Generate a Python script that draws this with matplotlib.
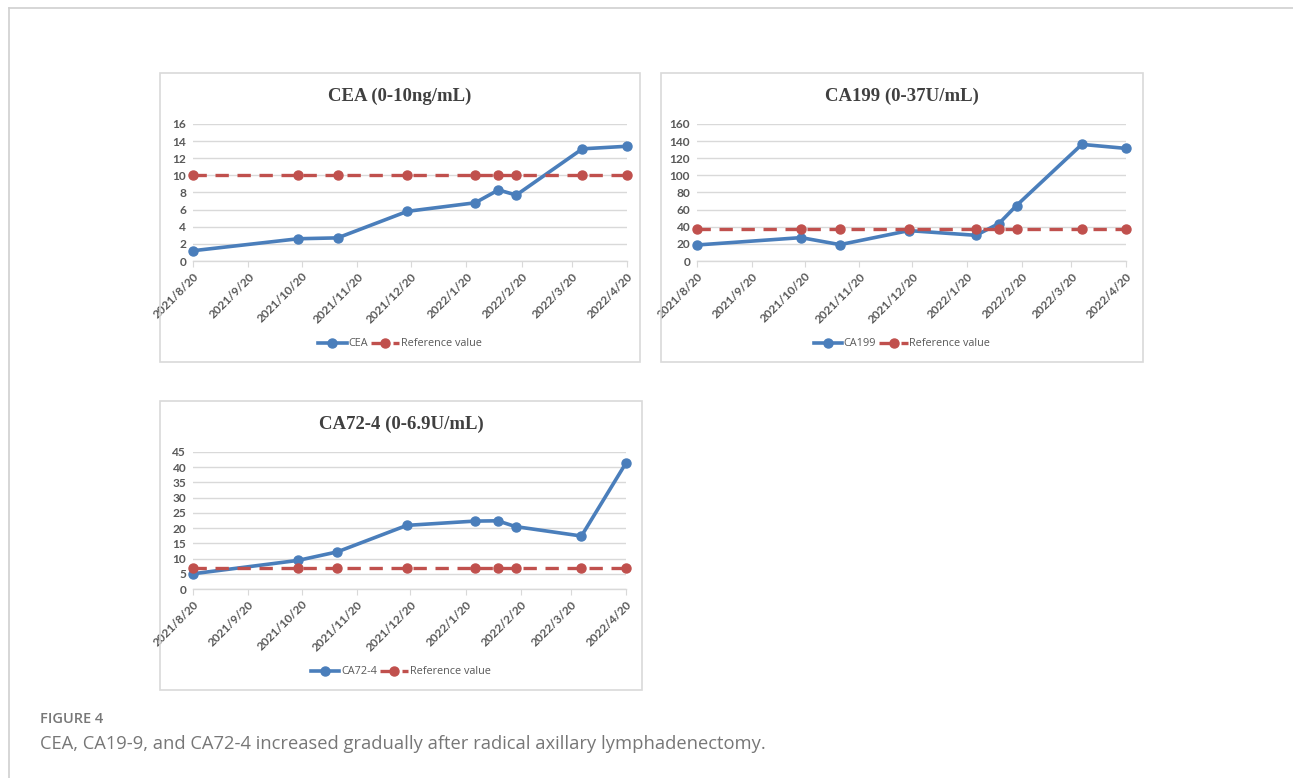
import matplotlib
matplotlib.use("Agg")
import matplotlib.pyplot as plt
import matplotlib.dates as mdates
from matplotlib.patches import Rectangle
from matplotlib.lines import Line2D
from datetime import datetime

W, H = 1293, 778

# sampling dates (same for all three markers)
dates = ["2021/8/20", "2021/10/18", "2021/11/9", "2021/12/18", "2022/1/25",
         "2022/2/7", "2022/2/17", "2022/3/26", "2022/4/20"]
tick_labels = ["2021/8/20", "2021/9/20", "2021/10/20", "2021/11/20", "2021/12/20",
               "2022/1/20", "2022/2/20", "2022/3/20", "2022/4/20"]

cea = [1.2, 2.6, 2.7, 5.8, 6.8, 8.3, 7.7, 13.1, 13.4]
ca199 = [18.7, 27.3, 19.1, 35.5, 30.0, 43.7, 64.8, 136.2, 131.5]
ca724 = [5.0, 9.4, 12.2, 20.9, 22.3, 22.4, 20.5, 17.4, 41.4]
ref_cea, ref_ca199, ref_ca724 = 10, 37, 6.9

BLUE = "#4a7ebb"
RED = "#c0504d"
GRID = "#d9d9d9"
TXT = "#595959"


def to_num(s):
    return mdates.date2num(datetime.strptime(s, "%Y/%m/%d"))


x = [to_num(d) for d in dates]
xt = [to_num(d) for d in tick_labels]


def px_box(x0, y0, x1, y1):
    return [x0 / W, 1 - y1 / H, (x1 - x0) / W, (y1 - y0) / H]


fig = plt.figure(figsize=(W / 100, H / 100), dpi=100)

# page frame
fig.add_artist(Line2D([9 / W, 1], [1 - 8 / H, 1 - 8 / H], color="#d0d0d0", lw=1.2))
fig.add_artist(Line2D([9 / W, 9 / W], [0, 1 - 8 / H], color="#d0d0d0", lw=1.2))


def panel(box, ax_box, title, name, vals, ref, ymax, ystep):
    bx0, by0, bx1, by1 = box
    fig.add_artist(Rectangle((bx0 / W, 1 - by1 / H), (bx1 - bx0) / W, (by1 - by0) / H,
                             transform=fig.transFigure, fill=False, ec=GRID, lw=1.2))
    ax = fig.add_axes(px_box(*ax_box))
    ax.plot(x, vals, color=BLUE, lw=2.6, marker="o", ms=6.5, clip_on=False, zorder=3, label=name)
    ax.plot(x, [ref] * len(x), color=RED, lw=2.4, ls=(0, (4, 2.6)), marker="o", ms=6.5,
            clip_on=False, zorder=4, label="Reference value")
    ax.set_xlim(xt[0], xt[-1])
    ax.set_ylim(0, ymax)
    ax.set_yticks(range(0, ymax + 1, ystep))
    ax.set_xticks(xt)
    ax.set_xticklabels(tick_labels, rotation=45, ha="right", rotation_mode="anchor")
    ax.grid(axis="y", color=GRID, lw=1)
    ax.set_axisbelow(True)
    for s in ["top", "right", "left"]:
        ax.spines[s].set_visible(False)
    ax.spines["bottom"].set_color(GRID)
    ax.spines["bottom"].set_linewidth(1)
    ax.tick_params(axis="y", length=0, pad=5, labelsize=8.6, labelcolor=TXT)
    ax.tick_params(axis="x", length=4, color=GRID, pad=3, labelsize=8.6, labelcolor=TXT)
    for lab in ax.get_xticklabels() + ax.get_yticklabels():
        lab.set_fontweight("bold")
        lab.set_family("Lato")
    cx = (bx0 + bx1) / 2
    fig.text(cx / W, 1 - (by0 + 23) / H, title, ha="center", va="center",
             family="Liberation Serif", fontweight="bold", fontsize=13.5, color="#404040")
    fig.legend(*ax.get_legend_handles_labels(), loc="center",
               bbox_to_anchor=(cx / W, 1 - (by1 - 18) / H), ncol=2, frameon=False,
               handlelength=2.6, handletextpad=0.15, columnspacing=0.3,
               prop={"family": "Open Sans", "size": 7.8}, labelcolor=TXT)
    return ax


panel((160, 73, 640, 362), (193, 124, 627, 261), "CEA (0-10ng/mL)", "CEA", cea, ref_cea, 16, 2)
panel((661, 73, 1143, 362), (697, 124, 1126, 261), "CA199 (0-37U/mL)", "CA199", ca199, ref_ca199, 160, 20)
panel((160, 401, 642, 690), (193, 452, 626, 589), "CA72-4 (0-6.9U/mL)", "CA72-4", ca724, ref_ca724, 45, 5)

fig.text(40 / W, 1 - 719 / H, "FIGURE 4", ha="left", va="center", family="Open Sans",
         fontweight="semibold", fontsize=10.5, color="#777777")
fig.text(40 / W, 1 - 744 / H,
         "CEA, CA19-9, and CA72-4 increased gradually after radical axillary lymphadenectomy.",
         ha="left", va="center", family="Open Sans", fontsize=13.2, color="#777777")

fig.savefig("out.png", dpi=100)
